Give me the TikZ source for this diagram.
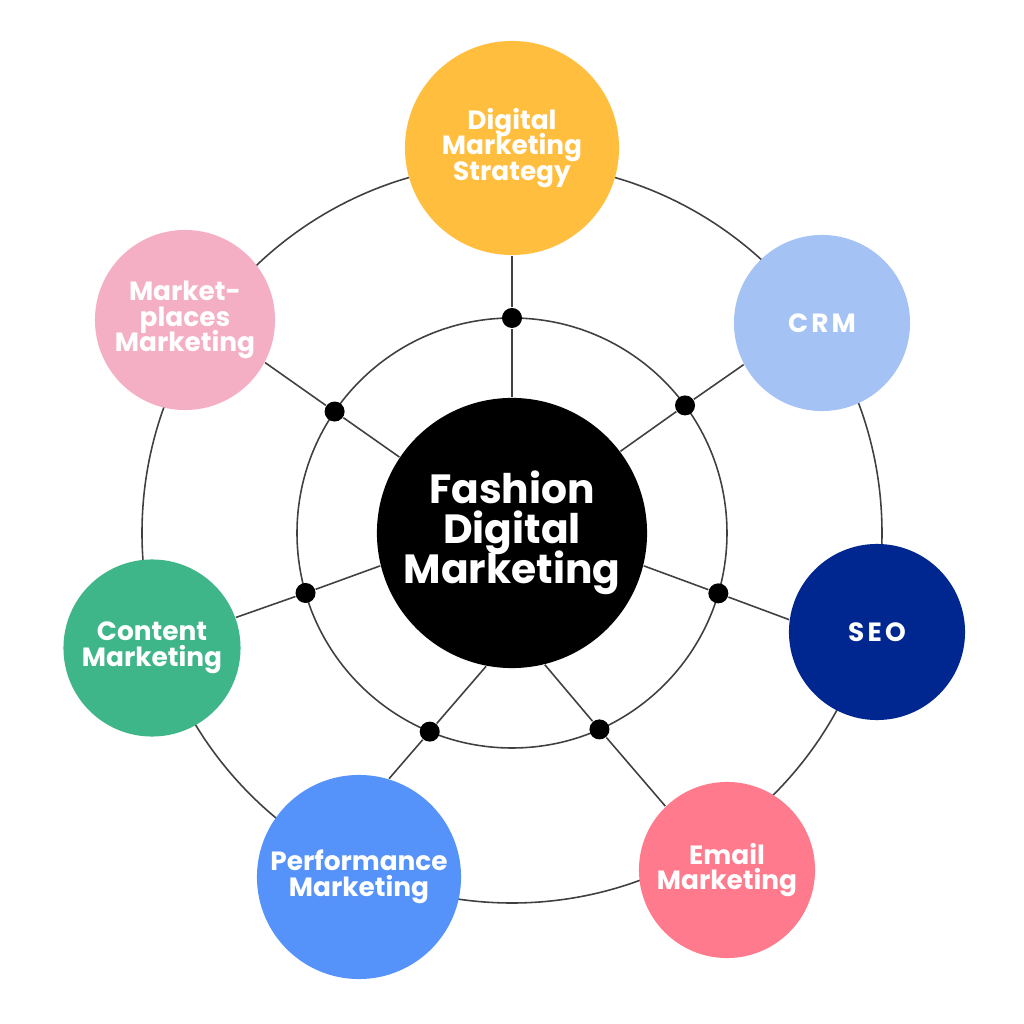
\documentclass[tikz,border=0pt]{standalone}
\usepackage{fontspec}
\setmainfont{Poppins}
\usepackage{tikz}
\usepackage{xcolor}
\usetikzlibrary{backgrounds}

\definecolor{dmsyellow}{HTML}{FFBE3D}
\definecolor{crmblue}{HTML}{A4C2F4}
\definecolor{seonavy}{HTML}{00268F}
\definecolor{emailpink}{HTML}{FF7A8C}
\definecolor{perfblue}{HTML}{5592F9}
\definecolor{contentgreen}{HTML}{3FB58A}
\definecolor{marketpink}{HTML}{F4AFC4}
\newcommand{\tightlines}{\setlength{\lineskiplimit}{-20pt}}

\begin{document}
\begin{tikzpicture}[x=0.01cm,y=0.01cm,
        hub/.style={circle,fill=black,minimum size=2.7cm,inner sep=0pt,text=white,align=center,
            font=\bfseries\fontsize{11.6}{11.3}\selectfont\tightlines},
        topic/.style={circle,inner sep=0pt,text=white,align=center,
            font=\bfseries\fontsize{7.5}{7.35}\selectfont\tightlines},
        joint/.style={circle,fill=black,minimum size=0.2cm,inner sep=0pt},
        ring/.style={draw=black!75,line width=0.45pt}]
                \useasboundingbox (-512,-491) rectangle (512,533);
                \node[hub] (hub) at (0,0) {Fashion\\Digital\\Marketing};
                \node[topic,fill=dmsyellow,minimum size=2.14cm] (dms) at (0,385) {Digital\\Marketing\\Strategy};
                \node[topic,fill=crmblue,minimum size=1.76cm,font=\bfseries\fontsize{7.5}{7.35}\selectfont\addfontfeature{LetterSpace=12}] (crm) at (310,210) {CRM};
                \node[topic,fill=seonavy,minimum size=1.76cm,font=\bfseries\fontsize{7.5}{7.35}\selectfont\addfontfeature{LetterSpace=12}] (seo) at (365,-99) {SEO};
                \node[topic,fill=emailpink,minimum size=1.76cm] (email) at (215,-337) {Email\\Marketing};
                \node[topic,fill=perfblue,minimum size=2.04cm] (perf) at (-153,-344) {Performance\\Marketing};
                \node[topic,fill=contentgreen,minimum size=1.77cm] (content) at (-360,-115) {Content\\Marketing};
                \node[topic,fill=marketpink,minimum size=1.8cm] (market) at (-327,213) {Market-\\places\\Marketing};
                % joints on the inner ring, spokes through them
                \foreach \n/\a/\h/\o in {dms/90/90/-90, crm/36.4/37.5/208, seo/-16.3/-14/172, email/-66/-76/134,
                        perf/-112.5/-101/73, content/196.2/194/20, market/145.6/146/-28}{
                    \node[joint] (j-\n) at (\a:215) {};
                    \begin{scope}[on background layer]
                        \draw[ring] (hub.\h) -- (j-\n) -- (\n.\o);
                    \end{scope}
                }
                \begin{scope}[on background layer]
                    \draw[ring] (hub.center) circle (215);
                    \draw[ring] (hub.center) circle (370);
                \end{scope}
            \end{tikzpicture}
\end{document}
